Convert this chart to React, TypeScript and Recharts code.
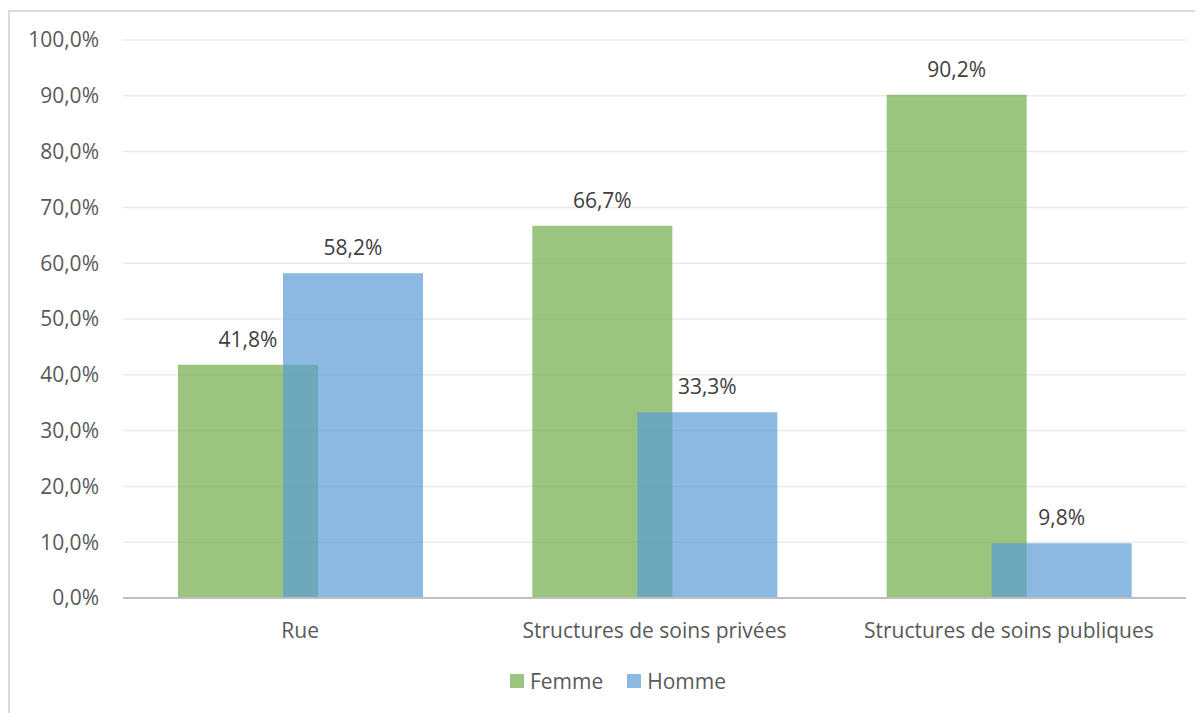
import { BarChart, Bar, XAxis, YAxis, CartesianGrid, Legend, LabelList } from "recharts";

const categories = ["Rue", "Structures de soins privées", "Structures de soins publiques"];
const femme = [41.8, 66.7, 90.2];
const homme = [58.2, 33.3, 9.8];
const yTicks = [0, 10, 20, 30, 40, 50, 60, 70, 80, 90, 100];

const data = categories.map((name, i) => ({ name, Femme: femme[i], Homme: homme[i] }));

const FONT = "'Open Sans', sans-serif";
const FS = 21;
const fmt = (v: number) => v.toFixed(1).replace(".", ",") + "%";

// legend swatches use the colour as it looks with opacity on white
const swatches = [
  { name: "Femme", color: "#9bc57e" },
  { name: "Homme", color: "#8cb9e2" },
];

function renderLegend() {
  return (
    <div style={{ display: "flex", justifyContent: "center", alignItems: "center", paddingLeft: 64 }}>
      {swatches.map((s) => (
        <div key={s.name} style={{ display: "flex", alignItems: "center", marginRight: 24 }}>
          <span style={{ width: 14, height: 14, background: s.color, marginRight: 6, display: "inline-block" }} />
          <span style={{ color: "#595959", fontSize: FS, fontFamily: FONT }}>{s.name}</span>
        </div>
      ))}
    </div>
  );
}

export default function App() {
  return (
    <div
      style={{
        marginTop: 2,
        width: 1200,
        height: 710,
        border: "2px solid #d9d9d9",
        boxSizing: "border-box",
        fontFamily: FONT,
      }}
    >
      <BarChart
        width={1190}
        height={690}
        data={data}
        margin={{ top: 28, right: 14, left: 0, bottom: 6 }}
        barSize={140}
        barGap={-35}
      >
        <CartesianGrid vertical={false} stroke="#ebebeb" strokeWidth={1.5} />
        <YAxis
          domain={[0, 100]}
          ticks={yTicks}
          tickFormatter={fmt}
          axisLine={false}
          tickLine={false}
          tickSize={0}
          tickMargin={24}
          width={113}
          tick={{ fill: "#595959", fontSize: FS, fontFamily: FONT }}
        />
        <XAxis
          dataKey="name"
          axisLine={{ stroke: "#bfbfbf", strokeWidth: 2 }}
          tickLine={false}
          tickSize={0}
          tickMargin={25}
          height={68}
          tick={{ fill: "#595959", fontSize: FS, fontFamily: FONT }}
        />
        <Legend content={renderLegend} wrapperStyle={{ lineHeight: "30px" }} />
        <Bar dataKey="Femme" fill="#70ad47" fillOpacity={0.7} isAnimationActive={false}>
          <LabelList
            dataKey="Femme"
            position="top"
            offset={18}
            formatter={(v: any) => fmt(Number(v))}
            style={{ fill: "#404040", fontSize: FS, fontFamily: FONT }}
          />
        </Bar>
        <Bar dataKey="Homme" fill="#5b9bd5" fillOpacity={0.7} isAnimationActive={false}>
          <LabelList
            dataKey="Homme"
            position="top"
            offset={18}
            formatter={(v: any) => fmt(Number(v))}
            style={{ fill: "#404040", fontSize: FS, fontFamily: FONT }}
          />
        </Bar>
      </BarChart>
    </div>
  );
}
